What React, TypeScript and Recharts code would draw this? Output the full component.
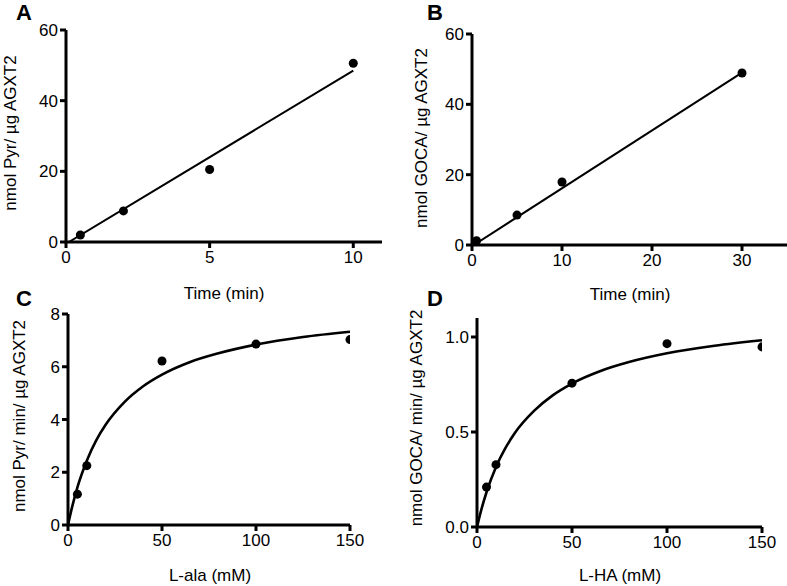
import React from "react";
import { ComposedChart, Line, Scatter, XAxis, YAxis } from "recharts";

// Panel A: pyruvate formation over time
const aTime = [0.5, 2, 5, 10];
const aPyr = [2.0, 8.8, 20.5, 50.6];
const aFitTime = [0.1, 10];
const aFitPyr = [0, 48.5];

// Panel B: GOCA formation over time
const bTime = [0.5, 5, 10, 30];
const bGoca = [1.2, 8.5, 17.9, 48.9];
const bFitTime = [0.2, 30];
const bFitGoca = [0, 49];

// Panel C: rate vs L-ala
const cConc = [5, 10, 50, 100, 150];
const cRate = [1.17, 2.25, 6.22, 6.86, 7.03];
const cFitConc = [0, 2, 5, 10, 15, 20, 30, 40, 50, 65, 80, 100, 125, 150];
const cFitRate = [0, 0.63, 1.43, 2.44, 3.21, 3.8, 4.66, 5.26, 5.7, 6.18, 6.51, 6.84, 7.13, 7.33];

// Panel D: rate vs L-HA
const dConc = [5, 10, 50, 100, 150];
const dRate = [0.21, 0.328, 0.757, 0.965, 0.948];
const dFitConc = [0, 2, 5, 10, 15, 20, 30, 40, 50, 65, 80, 100, 125, 150];
const dFitRate = [0, 0.081, 0.183, 0.316, 0.416, 0.496, 0.611, 0.694, 0.755, 0.821, 0.868, 0.914, 0.954, 0.983];

const FONT = "'Liberation Sans', Arial, sans-serif";

const zip = (xs: number[], ys: number[]) => xs.map((x, i) => ({ x, y: ys[i] }));

type TickProps = { x?: number; y?: number; payload?: { value: number } };

const makeTick = (side: "bottom" | "left", fmt?: (v: number) => string) =>
  function Tick({ x = 0, y = 0, payload }: TickProps) {
    const v = payload ? payload.value : 0;
    return (
      <text
        x={x}
        y={y}
        dy={side === "bottom" ? "0.71em" : "0.355em"}
        textAnchor={side === "bottom" ? "middle" : "end"}
        fontFamily={FONT}
        fontSize={17}
        fill="#000"
      >
        {fmt ? fmt(v) : String(v)}
      </text>
    );
  };

type PanelProps = {
  left: number;
  top: number;
  width: number;
  height: number;
  margin: { top: number; right: number; left: number; bottom: number };
  points: { x: number; y: number }[];
  fit: { x: number; y: number }[];
  xDomain: [number, number];
  xTicks: number[];
  yDomain: [number, number];
  yTicks: number[];
  yFmt?: (v: number) => string;
  fitWidth: number;
  curved?: boolean;
};

function Panel(p: PanelProps) {
  return (
    <div style={{ position: "absolute", left: p.left, top: p.top }}>
      <ComposedChart width={p.width} height={p.height} margin={p.margin}>
        <XAxis
          type="number"
          dataKey="x"
          domain={p.xDomain}
          ticks={p.xTicks}
          allowDataOverflow
          height={30}
          tick={makeTick("bottom")}
          tickSize={6}
          tickMargin={3}
          stroke="#000"
          strokeWidth={3}
          axisLine={{ stroke: "#000", strokeWidth: 3 }}
          tickLine={{ stroke: "#000", strokeWidth: 3 }}
        />
        <YAxis
          type="number"
          dataKey="y"
          domain={p.yDomain}
          ticks={p.yTicks}
          allowDataOverflow
          width={40}
          tick={makeTick("left", p.yFmt)}
          tickSize={6}
          tickMargin={2}
          stroke="#000"
          strokeWidth={3}
          axisLine={{ stroke: "#000", strokeWidth: 3 }}
          tickLine={{ stroke: "#000", strokeWidth: 3 }}
        />
        <Line
          data={p.fit}
          dataKey="y"
          type={p.curved ? "monotone" : "linear"}
          stroke="#000"
          strokeWidth={p.fitWidth}
          dot={false}
          activeDot={false}
          isAnimationActive={false}
        />
        <Scatter data={p.points} dataKey="y" fill="#000" isAnimationActive={false} />
      </ComposedChart>
    </div>
  );
}

function Title({ x, y, rotate, children }: { x: number; y: number; rotate?: boolean; children: React.ReactNode }) {
  return (
    <div
      style={{
        position: "absolute",
        left: x,
        top: y,
        transform: `translate(-50%, -50%)${rotate ? " rotate(-90deg)" : ""}`,
        whiteSpace: "nowrap",
        fontFamily: FONT,
        fontSize: 17,
        color: "#000",
        lineHeight: 1,
      }}
    >
      {children}
    </div>
  );
}

// panel letters; box top sits at the text's ascent so nothing pokes above the page
function Letter({ x, y, children }: { x: number; y: number; children: React.ReactNode }) {
  return (
    <div
      style={{
        position: "absolute",
        left: x,
        top: y,
        fontFamily: FONT,
        fontWeight: 700,
        fontSize: 22,
        lineHeight: "normal",
        color: "#000",
      }}
    >
      {children}
    </div>
  );
}

export default function App() {
  return (
    <div
      style={{
        position: "absolute",
        left: 0,
        top: 0,
        width: 787,
        height: 586,
        background: "#fff",
        overflow: "hidden",
      }}
    >
      <Panel
        left={0}
        top={0}
        width={400}
        height={300}
        margin={{ top: 30, right: 18, left: 26, bottom: 28 }}
        points={zip(aTime, aPyr)}
        fit={zip(aFitTime, aFitPyr)}
        xDomain={[0, 11]}
        xTicks={[0, 5, 10]}
        yDomain={[0, 60]}
        yTicks={[0, 20, 40, 60]}
        fitWidth={2}
      />
      <Panel
        left={400}
        top={0}
        width={387}
        height={300}
        margin={{ top: 34, right: 0, left: 32, bottom: 25 }}
        points={zip(bTime, bGoca)}
        fit={zip(bFitTime, bFitGoca)}
        xDomain={[0, 35]}
        xTicks={[0, 10, 20, 30]}
        yDomain={[0, 60]}
        yTicks={[0, 20, 40, 60]}
        fitWidth={2}
      />
      <Panel
        left={0}
        top={290}
        width={400}
        height={296}
        margin={{ top: 24, right: 50, left: 28, bottom: 31 }}
        points={zip(cConc, cRate)}
        fit={zip(cFitConc, cFitRate)}
        xDomain={[0, 150]}
        xTicks={[0, 50, 100, 150]}
        yDomain={[0, 8]}
        yTicks={[0, 2, 4, 6, 8]}
        fitWidth={2.6}
        curved
      />
      <Panel
        left={400}
        top={290}
        width={387}
        height={296}
        margin={{ top: 28, right: 25, left: 37, bottom: 29 }}
        points={zip(dConc, dRate)}
        fit={zip(dFitConc, dFitRate)}
        xDomain={[0, 150]}
        xTicks={[0, 50, 100, 150]}
        yDomain={[0, 1.1]}
        yTicks={[0, 0.5, 1]}
        yFmt={(v) => v.toFixed(1)}
        fitWidth={2.6}
        curved
      />

      <Letter x={16} y={0}>A</Letter>
      <Letter x={427} y={0}>B</Letter>
      <Letter x={16} y={286}>C</Letter>
      <Letter x={427} y={286}>D</Letter>

      <Title x={10} y={133} rotate>nmol Pyr/ µg AGXT2</Title>
      <Title x={421} y={138} rotate>nmol GOCA/ µg AGXT2</Title>
      <Title x={19} y={416} rotate>nmol Pyr/ min/ µg AGXT2</Title>
      <Title x={416} y={418} rotate>nmol GOCA/ min/ µg AGXT2</Title>

      <Title x={224} y={293}>Time (min)</Title>
      <Title x={630} y={294}>Time (min)</Title>
      <Title x={210} y={575}>L-ala (mM)</Title>
      <Title x={620} y={575}>L-HA (mM)</Title>
    </div>
  );
}
